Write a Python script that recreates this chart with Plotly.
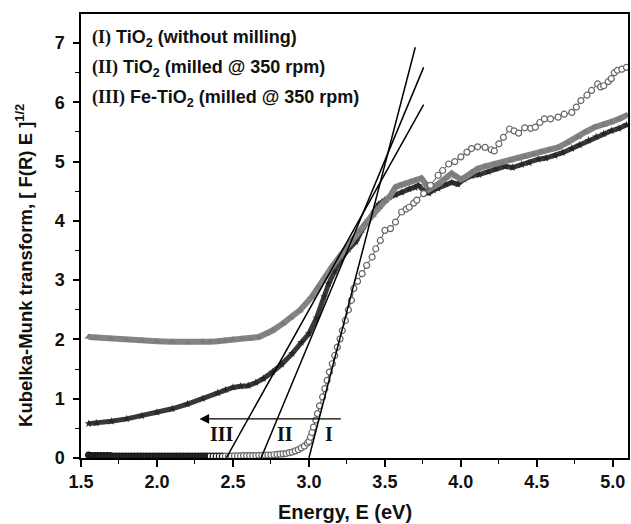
import plotly.graph_objects as go

# Series I: TiO2 (without milling)
e1 = [1.55,1.57,1.59,1.61,1.63,1.65,1.67,1.69,1.71,1.73,1.75,1.77,1.79,1.81,1.83,1.85,1.87,1.89,1.91,1.93,
      1.95,1.97,1.99,2.01,2.03,2.05,2.07,2.09,2.11,2.13,2.15,2.17,2.19,2.21,2.23,2.25,2.27,2.29,2.31,2.33,
      2.35,2.37,2.39,2.41,2.43,2.45,2.47,2.49,2.51,2.53,2.55,2.57,2.59,2.61,2.63,2.65,2.67,2.69,2.71,2.73,
      2.75,2.77,2.79,2.81,2.83,2.85,2.87,2.89,2.91,2.93,2.95,2.97,2.99,3.00,3.01,3.02,3.03,3.045,3.056,3.07,
      3.09,3.105,3.12,3.135,3.154,3.17,3.187,3.205,3.22,3.24,3.26,3.28,3.296,3.32,3.35,3.38,3.416,3.44,3.47,3.50,
      3.537,3.57,3.61,3.64,3.66,3.69,3.71,3.755,3.80,3.85,3.88,3.92,3.96,4.00,4.04,4.07,4.11,4.16,4.20,4.22,
      4.25,4.28,4.32,4.35,4.38,4.42,4.46,4.49,4.52,4.55,4.59,4.64,4.68,4.73,4.76,4.79,4.83,4.86,4.90,4.92,
      4.94,4.97,4.99,5.01,5.03,5.06,5.09]
v1 = [0.05,0.04,0.04,0.04,0.04,0.04,0.04,0.04,0.03,0.03,0.03,0.03,0.03,0.03,0.03,0.03,0.03,0.03,0.03,0.03,
      0.03,0.03,0.03,0.03,0.03,0.03,0.03,0.03,0.03,0.03,0.03,0.03,0.03,0.03,0.03,0.03,0.03,0.03,0.03,0.03,
      0.03,0.03,0.03,0.03,0.03,0.03,0.03,0.03,0.035,0.035,0.035,0.04,0.04,0.04,0.04,0.04,0.045,0.045,0.05,0.05,
      0.05,0.055,0.06,0.065,0.07,0.075,0.09,0.10,0.12,0.14,0.17,0.20,0.25,0.28,0.35,0.43,0.52,0.64,0.75,0.88,
      1.03,1.17,1.31,1.45,1.59,1.73,1.87,2.01,2.15,2.32,2.50,2.66,2.86,2.98,3.11,3.25,3.39,3.53,3.67,3.84,
      3.87,3.98,4.15,4.20,4.23,4.30,4.35,4.46,4.60,4.77,4.85,4.96,5.00,5.08,5.16,5.22,5.25,5.24,5.20,5.18,
      5.30,5.41,5.55,5.52,5.48,5.57,5.56,5.58,5.66,5.72,5.72,5.75,5.80,5.83,5.92,6.03,6.12,6.20,6.31,6.26,
      6.28,6.35,6.40,6.50,6.54,6.56,6.59]

# Series II: TiO2 (milled @ 350 rpm)
e2 = [1.55,1.60,1.70,1.80,1.90,2.00,2.10,2.20,2.30,2.40,2.45,2.50,2.55,2.60,2.65,2.70,2.76,2.82,2.89,2.95,
      3.00,3.05,3.10,3.13,3.17,3.21,3.26,3.31,3.35,3.39,3.43,3.46,3.50,3.53,3.57,3.61,3.66,3.70,3.72,3.76,
      3.79,3.82,3.85,3.90,3.94,3.98,4.02,4.07,4.12,4.18,4.23,4.29,4.34,4.40,4.45,4.51,4.56,4.62,4.67,4.73,
      4.78,4.84,4.89,4.94,4.99,5.04,5.09]
v2 = [0.58,0.59,0.62,0.66,0.71,0.77,0.83,0.91,1.00,1.10,1.15,1.19,1.21,1.22,1.27,1.34,1.45,1.58,1.76,1.95,
      2.10,2.36,2.72,2.94,3.15,3.35,3.52,3.65,3.85,4.00,4.15,4.28,4.35,4.40,4.44,4.48,4.54,4.56,4.60,4.50,
      4.47,4.52,4.55,4.62,4.65,4.62,4.70,4.76,4.78,4.83,4.88,4.92,4.90,4.95,4.98,5.04,5.06,5.10,5.15,5.22,
      5.28,5.36,5.42,5.47,5.52,5.56,5.62]

# Series III: Fe-TiO2 (milled @ 350 rpm)
e3 = [1.55,1.60,1.70,1.80,1.90,2.00,2.10,2.20,2.30,2.35,2.40,2.45,2.50,2.56,2.61,2.67,2.72,2.76,2.83,2.88,
      2.94,3.02,3.06,3.11,3.15,3.20,3.24,3.28,3.33,3.37,3.42,3.46,3.50,3.53,3.57,3.60,3.63,3.67,3.70,3.74,
      3.77,3.79,3.82,3.85,3.90,3.94,3.97,4.00,4.03,4.07,4.11,4.16,4.22,4.27,4.33,4.38,4.42,4.48,4.53,4.58,
      4.64,4.70,4.77,4.82,4.88,4.94,4.99,5.04,5.09]
v3 = [2.04,2.03,2.01,1.99,1.98,1.97,1.96,1.95,1.96,1.96,1.97,1.98,2.00,2.01,2.01,2.04,2.10,2.15,2.27,2.37,
      2.49,2.72,2.88,3.05,3.22,3.39,3.53,3.67,3.82,3.95,4.10,4.23,4.33,4.40,4.57,4.60,4.63,4.66,4.68,4.72,
      4.62,4.53,4.58,4.62,4.72,4.80,4.75,4.70,4.74,4.82,4.88,4.92,4.96,4.98,5.02,5.05,5.08,5.12,5.16,5.20,
      5.24,5.32,5.41,5.50,5.58,5.62,5.67,5.72,5.78]

# Tangent (band-gap extrapolation) lines: [E_start, E_end], [V_start, V_end]
tanI_e, tanI_v = [3.00, 3.70], [0.0, 6.93]
tanII_e, tanII_v = [2.685, 3.755], [0.0, 6.59]
tanIII_e, tanIII_v = [2.456, 3.755], [0.0, 5.96]

# Arrow and roman labels
arrow_e, arrow_v = [3.22, 2.28], 0.66
roman_labels = ["III", "II", "I"]
roman_e = [2.43, 2.845, 3.13]
roman_v = 0.40

legend_lines = [
    "<span style='font-family:Liberation Serif'>(I)</span> TiO<sub>2</sub> (without milling)",
    "<span style='font-family:Liberation Serif'>(II)</span> TiO<sub>2</sub> (milled @ 350 rpm)",
    "<span style='font-family:Liberation Serif'>(III)</span> Fe-TiO<sub>2</sub> (milled @ 350 rpm)",
]
legend_v = [7.08, 6.57, 6.07]

x_title = "Energy, E (eV)"
y_title = "Kubelka-Munk transform, [ F(R) E ]<sup>1/2</sup>"

fig = go.Figure()

fig.add_trace(go.Scatter(x=e2, y=v2, mode="lines+markers",
                         line=dict(color="#383838", width=5),
                         marker=dict(symbol="star", size=6, color="#262626"),
                         cliponaxis=False, showlegend=False))
fig.add_trace(go.Scatter(x=e3, y=v3, mode="lines+markers",
                         line=dict(color="#848484", width=6),
                         marker=dict(symbol="triangle-up", size=7, color="#7c7c7c"),
                         cliponaxis=False, showlegend=False))
edge1 = ["#111111" if e < 2.45 else "#666666" for e in e1]
fill1 = ["#2a2a2a" if e < 2.35 else "white" for e in e1]
fig.add_trace(go.Scatter(x=e1, y=v1, mode="lines+markers",
                         line=dict(color="#444444", width=1),
                         marker=dict(symbol="circle", size=6, color=fill1,
                                     line=dict(color=edge1, width=1.2)),
                         cliponaxis=False, showlegend=False))

for te, tv in [(tanI_e, tanI_v), (tanII_e, tanII_v), (tanIII_e, tanIII_v)]:
    fig.add_trace(go.Scatter(x=te, y=tv, mode="lines",
                             line=dict(color="black", width=1.5), showlegend=False))

fig.add_annotation(x=arrow_e[1], y=arrow_v, ax=arrow_e[0], ay=arrow_v,
                   xref="x", yref="y", axref="x", ayref="y",
                   showarrow=True, arrowhead=2, arrowsize=1.6, arrowwidth=1.2,
                   arrowcolor="black", text="")

for lab, le in zip(roman_labels, roman_e):
    fig.add_annotation(x=le, y=roman_v, text="<b>" + lab + "</b>", showarrow=False,
                       xanchor="center", yanchor="middle",
                       font=dict(family="Liberation Serif", size=20, color="#111"))

for txt, lv in zip(legend_lines, legend_v):
    fig.add_annotation(x=1.556, y=lv, text="<b>" + txt + "</b>", showarrow=False,
                       xanchor="left", yanchor="middle",
                       font=dict(family="Liberation Sans", size=18, color="#111"))

# axis titles placed as annotations (positioned like the reference)
fig.add_annotation(xref="paper", yref="paper", x=0.482, y=-0.122,
                   text="<b>" + x_title + "</b>", showarrow=False,
                   xanchor="center", yanchor="middle",
                   font=dict(family="Liberation Sans", size=20, color="#111"))
fig.add_annotation(xref="paper", yref="paper", x=-0.103, y=0.434,
                   text="<b>" + y_title + "</b>", showarrow=False, textangle=-90,
                   xanchor="center", yanchor="middle",
                   font=dict(family="Liberation Sans", size=18.5, color="#111"))

axis_common = dict(
    showline=True, linecolor="black", linewidth=1.5, mirror=True,
    ticks="outside", tickwidth=1.5, tickcolor="black",
    showgrid=False, zeroline=False,
    tickfont=dict(family="Liberation Sans", size=18, color="#111", weight="bold"),
)

fig.update_xaxes(range=[1.5, 5.1], dtick=0.5, tick0=1.5, tickformat=".1f", ticklen=7,
                 minor=dict(dtick=0.25, ticks="outside", ticklen=4, tickcolor="black", tickwidth=1.2),
                 **axis_common)
fig.update_yaxes(range=[0, 7.49], dtick=1, tick0=0, ticklen=6, ticklabelstandoff=5,
                 minor=dict(dtick=0.5, ticks="outside", ticklen=4, tickcolor="black", tickwidth=1.2),
                 **axis_common)

fig.update_layout(width=631, height=524, margin=dict(l=81, r=1, t=14, b=66),
                  plot_bgcolor="white", paper_bgcolor="white")

fig.write_html("out.html", config={"displayModeBar": False},
               post_script="document.body.style.margin='0';")
